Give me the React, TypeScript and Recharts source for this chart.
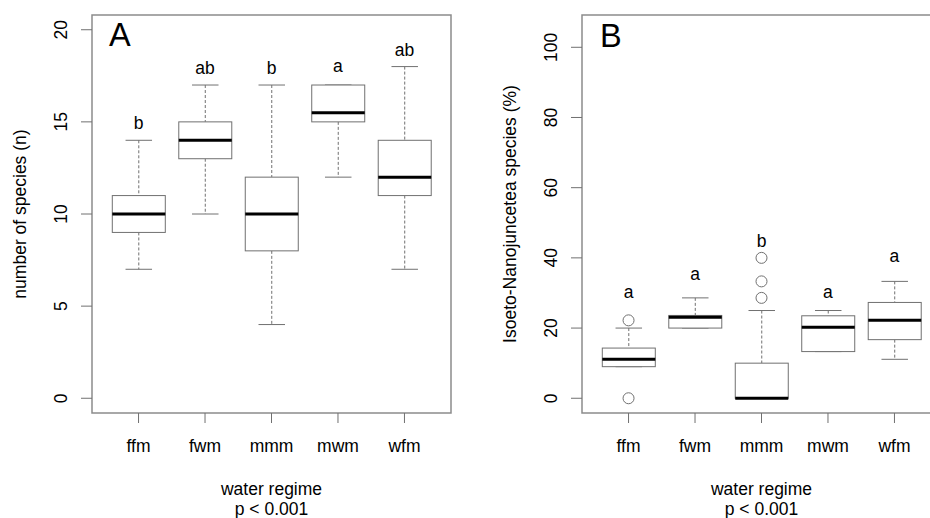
import React from "react";
import {
  ComposedChart,
  Bar,
  Line,
  XAxis,
  YAxis,
  ReferenceArea,
} from "recharts";

const categories = ["ffm", "fwm", "mmm", "mwm", "wfm"];
const positions = [1, 2, 3, 4, 5];

// panel A: number of species
const aLow = [7, 10, 4, 12, 7];
const aQ1 = [9, 13, 8, 15, 11];
const aMedian = [10, 14, 10, 15.5, 12];
const aQ3 = [11, 15, 12, 17, 14];
const aHigh = [14, 17, 17, 17, 18];
const aLetters = ["b", "ab", "b", "a", "ab"];
const aLetterY = [14.6, 17.6, 17.6, 17.7, 18.6];
const aTicks = [0, 5, 10, 15, 20];

// panel B: Isoeto-Nanojuncetea share (%)
const bLow = [9, 20, 0, 13.3, 11.1];
const bQ1 = [9, 20, 0, 13.3, 16.7];
const bMedian = [11.1, 23.1, 0, 20.2, 22.2];
const bQ3 = [14.3, 23.6, 10, 23.5, 27.3];
const bHigh = [20, 28.6, 25, 25, 33.3];
const bOut1 = [22.2, null, 28.6, null, null];
const bOut2 = [0, null, 33.3, null, null];
const bOut3 = [null, null, 40, null, null];
const bLetters = ["a", "a", "b", "a", "a"];
const bLetterY = [28.7, 33.6, 43.1, 28.7, 38.8];
const bTicks = [0, 20, 40, 60, 80, 100];

const FONT = '"Liberation Sans", Arial, Helvetica, sans-serif';
const GRAY = "#707070";
const FRAME = "#8c8c8c";
const FS = 17.5;

function buildRows(lo, q1, med, q3, hi, letters, letterY, outs = []) {
  return categories.map((cat, i) => {
    const row: any = {
      cat,
      pos: positions[i],
      lo: lo[i],
      q1: q1[i],
      med: med[i],
      q3: q3[i],
      hi: hi[i],
      letter: letters[i],
      letterY: letterY[i],
    };
    outs.forEach((o, j) => {
      row["out" + (j + 1)] = o[i];
    });
    return row;
  });
}

const dataA = buildRows(aLow, aQ1, aMedian, aQ3, aHigh, aLetters, aLetterY);
const dataB = buildRows(bLow, bQ1, bMedian, bQ3, bHigh, bLetters, bLetterY, [
  bOut1,
  bOut2,
  bOut3,
]);

// whiskers + box + median, drawn from the range bar [lo, hi]
function BoxShape(props: any) {
  const { x, y, width, height, payload } = props;
  const top = Math.min(y, y + height);
  const h = Math.abs(height);
  const span = payload.hi - payload.lo;
  const k = span > 0 ? h / span : 0;
  const py = (v: number) => top + (payload.hi - v) * k;
  const cx = x + width / 2;
  const cap = width / 4;
  return (
    <g>
      <line x1={cx} x2={cx} y1={py(payload.hi)} y2={py(payload.q3)} stroke={GRAY} strokeDasharray="3 2" />
      <line x1={cx} x2={cx} y1={py(payload.q1)} y2={py(payload.lo)} stroke={GRAY} strokeDasharray="3 2" />
      <line x1={cx - cap} x2={cx + cap} y1={py(payload.hi)} y2={py(payload.hi)} stroke={GRAY} />
      <line x1={cx - cap} x2={cx + cap} y1={py(payload.lo)} y2={py(payload.lo)} stroke={GRAY} />
      <rect
        x={x}
        y={py(payload.q3)}
        width={width}
        height={Math.max(py(payload.q1) - py(payload.q3), 0)}
        fill="#fff"
        stroke={GRAY}
      />
      <line x1={x} x2={x + width} y1={py(payload.med)} y2={py(payload.med)} stroke="#000" strokeWidth={3} />
    </g>
  );
}

function outlierDot(props: any) {
  const { cx, cy, index, value } = props;
  if (value == null || cy == null || isNaN(cy)) return <g key={"o" + index} />;
  return <circle key={"o" + index} cx={cx} cy={cy} r={5.5} fill="none" stroke={GRAY} />;
}

function letterDot(props: any) {
  const { cx, cy, index, payload } = props;
  return (
    <text key={"l" + index} x={cx} y={cy} textAnchor="middle" fontFamily={FONT} fontSize={FS} fill="#000">
      {payload.letter}
    </text>
  );
}

function XTick(props: any) {
  const { x, y, payload } = props;
  return (
    <text x={x} y={y + 29} textAnchor="middle" fontFamily={FONT} fontSize={FS} fill="#000">
      {categories[payload.value - 1]}
    </text>
  );
}

function YTick(props: any) {
  const { x, y, payload } = props;
  const tx = x - 14;
  return (
    <text
      x={tx}
      y={y}
      textAnchor="middle"
      transform={`rotate(-90, ${tx}, ${y})`}
      fontFamily={FONT}
      fontSize={FS}
      fill="#000"
    >
      {payload.value}
    </text>
  );
}

function xTitle(props: any) {
  const vb = props.viewBox;
  const cx = vb.x + vb.width / 2;
  return (
    <g>
      <text x={cx} y={vb.y + 82} textAnchor="middle" fontFamily={FONT} fontSize={FS} fill="#000">
        water regime
      </text>
      <text x={cx} y={vb.y + 101.5} textAnchor="middle" fontFamily={FONT} fontSize={FS} fill="#000">
        p &lt; 0.001
      </text>
    </g>
  );
}

function yTitle(text: string) {
  return (props: any) => {
    const vb = props.viewBox;
    const tx = vb.x + vb.width - 66.5;
    const ty = vb.y + vb.height / 2;
    return (
      <text
        x={tx}
        y={ty}
        textAnchor="middle"
        transform={`rotate(-90, ${tx}, ${ty})`}
        fontFamily={FONT}
        fontSize={FS}
        fill="#000"
      >
        {text}
      </text>
    );
  };
}

const X_DOMAIN = [0.3, 5.7];

function Panel({ data, domain, ticks, yLabel, yWidth, width, outliers }: any) {
  return (
    <ComposedChart
      width={width}
      height={518}
      data={data}
      margin={{ top: 15, right: 19, bottom: 0, left: 0 }}
    >
      <XAxis
        dataKey="pos"
        type="number"
        domain={X_DOMAIN}
        ticks={positions}
        allowDataOverflow
        height={105}
        interval={0}
        axisLine={false}
        tickLine={{ stroke: GRAY }}
        tickSize={10}
        tickMargin={0}
        tick={<XTick />}
        label={{ content: xTitle }}
      />
      <YAxis
        type="number"
        domain={domain}
        ticks={ticks}
        allowDataOverflow
        width={yWidth}
        axisLine={false}
        tickLine={{ stroke: GRAY }}
        tickSize={11}
        tickMargin={0}
        tick={<YTick />}
        label={{ content: yTitle(yLabel) }}
      />
      <ReferenceArea
        x1={X_DOMAIN[0]}
        x2={X_DOMAIN[1]}
        y1={domain[0]}
        y2={domain[1]}
        fill="none"
        fillOpacity={0}
        stroke={FRAME}
        strokeWidth={1.5}
      />
      <Bar
        dataKey={(d: any) => [d.lo, d.hi]}
        barSize={53}
        shape={<BoxShape />}
        isAnimationActive={false}
      />
      {outliers.map((k: string) => (
        <Line
          key={k}
          dataKey={k}
          stroke="none"
          dot={outlierDot}
          activeDot={false}
          isAnimationActive={false}
          connectNulls={false}
        />
      ))}
      <Line
        dataKey="letterY"
        stroke="none"
        dot={letterDot}
        activeDot={false}
        isAnimationActive={false}
      />
    </ComposedChart>
  );
}

export default function App() {
  return (
    <div
      style={{
        position: "absolute",
        left: 0,
        top: 0,
        width: 930,
        height: 518,
        overflow: "hidden",
        background: "#fff",
      }}
    >
      <div style={{ position: "absolute", left: 0, top: 0 }}>
        <Panel
          data={dataA}
          domain={[-0.8, 20.8]}
          ticks={aTicks}
          yLabel="number of species (n)"
          yWidth={92}
          width={470}
          outliers={[]}
        />
      </div>
      <div style={{ position: "absolute", left: 470, top: 0 }}>
        <Panel
          data={dataB}
          domain={[-4.2, 109.2]}
          ticks={bTicks}
          yLabel="Isoeto-Nanojuncetea species (%)"
          yWidth={112}
          width={490}
          outliers={["out1", "out2", "out3"]}
        />
      </div>
      <div
        style={{
          position: "absolute",
          left: 109,
          top: 15,
          fontFamily: FONT,
          fontSize: 32.5,
          lineHeight: "40px",
          color: "#000",
        }}
      >
        A
      </div>
      <div
        style={{
          position: "absolute",
          left: 600,
          top: 16,
          fontFamily: FONT,
          fontSize: 32.5,
          lineHeight: "40px",
          color: "#000",
        }}
      >
        B
      </div>
    </div>
  );
}
